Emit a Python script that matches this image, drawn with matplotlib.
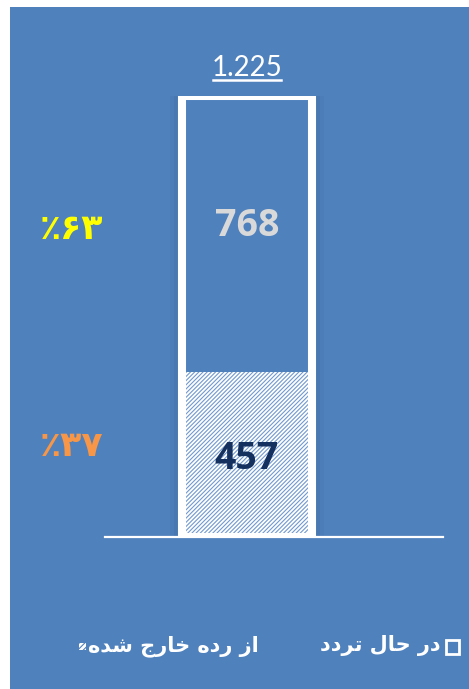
import matplotlib
matplotlib.use('Agg')
import matplotlib.pyplot as plt
from matplotlib.patches import Rectangle
from matplotlib.lines import Line2D

# data
categories = ['total']
retired = [457]      # از رده خارج شده
active = [768]       # در حال تردد
pct_active = '\u066a\u06f6\u06f3'    # ٪۶۳ (visual order)
pct_retired = '\u066a\u06f3\u06f7'   # ٪۳۷
# legend labels, shaped arabic presentation forms in visual order
lbl_active = '\uFEA9\uFEA9\uFEAE\uFE97 \uFEDD\uFE8E\uFEA3 \uFEAD\uFEA9'            # در حال تردد
lbl_retired = '\uFEE9\uFEAA\uFEB7 \uFE9D\uFEAD\uFE8E\uFEA7 \uFEE9\uFEA9\uFEAD \uFEAF\uFE8D'  # از رده خارج شده

BLUE = '#4F81BD'
W, H = 469, 689

fig = plt.figure(figsize=(W / 100, H / 100), dpi=100, facecolor='white')
fig.patches.append(Rectangle((10 / W, 0), 1, (H - 7) / H, transform=fig.transFigure,
                             facecolor=BLUE, edgecolor='none', zorder=-5))

ax = fig.add_axes([105 / W, 152 / H, 338 / W, 441 / H])
ax.set_zorder(2)
ax.set_facecolor('none')
total = retired[0] + active[0]
ax.set_xlim(0, 1)
ax.set_ylim(0, total)
x = [0.42]
bw = 0.385

plt.rcParams['hatch.linewidth'] = 0.8
# soft shadow
for k, a in enumerate([0.10, 0.07, 0.04]):
    m = 0.012 * (k + 1)
    ax.bar(x, [total + 8 * (k + 1)], width=bw + 2 * m, color='#1f3050', alpha=a,
           linewidth=0, zorder=1)
ax.bar(x, retired, width=bw, color='white', edgecolor='#7099cf', hatch='////////',
       linewidth=0, zorder=2)
ax.bar(x, active, bottom=retired, width=bw, color=BLUE, linewidth=0, zorder=2)
ax.bar(x, [total], width=bw, fill=False, edgecolor='white', linewidth=5.8, zorder=3)

for s in ['top', 'left', 'right']:
    ax.spines[s].set_visible(False)
ax.spines['bottom'].set_color('white')
ax.spines['bottom'].set_linewidth(1.6)
ax.spines['bottom'].set_zorder(4)
ax.set_xticks([])
ax.set_yticks([])

# value labels
ax.annotate(str(active[0]), (x[0], retired[0] + active[0] / 2), xytext=(0, 6),
            textcoords='offset points', ha='center', va='center',
            fontsize=27, fontweight='bold', color='#d9d9d9', family='Open Sans', zorder=5)
ax.annotate(str(retired[0]), (x[0], retired[0] / 2), xytext=(0, -3),
            textcoords='offset points', ha='center', va='center',
            fontsize=27, fontweight='bold', color='#14305e', family='Open Sans', zorder=5)
tot = ax.annotate(f'{total:,}'.replace(',', '.'), (x[0], total), xytext=(0, 11),
                  textcoords='offset points', ha='center', va='bottom',
                  fontsize=20, color='white', family='Lato', zorder=5)

# percentage labels on the left
ax.annotate(pct_active, (-0.098, retired[0] + active[0] / 2), xytext=(0, 4),
            textcoords='offset points', xycoords=('axes fraction', 'data'),
            ha='center', va='center', fontsize=25, fontweight='bold',
            color='#FFFF00', family='DejaVu Sans', annotation_clip=False)
ax.annotate(pct_retired, (-0.098, retired[0] / 2), xytext=(0, 6),
            textcoords='offset points', xycoords=('axes fraction', 'data'),
            ha='center', va='center', fontsize=25, fontweight='bold',
            color='#F79646', family='DejaVu Sans', annotation_clip=False)

# underline for the total
fig.canvas.draw()
bb = tot.get_window_extent()
fig.lines.append(Line2D([bb.x0 + 1, bb.x1 - 1], [bb.y0 + 1, bb.y0 + 1], color='white',
                        linewidth=1.8, transform=None, zorder=6))

# legend (manual, right-to-left)
ly = (H - 646) / H
fig.patches.append(Rectangle((446 / W, (H - 654) / H), 13 / W, 14 / H, transform=fig.transFigure,
                             facecolor='none', edgecolor='white', linewidth=2.0))
fig.text(441 / W, ly, lbl_active, ha='right', va='center', fontsize=15,
         fontweight='bold', color='white', family='DejaVu Sans')
fig.patches.append(Rectangle((79 / W, (H - 650) / H), 7 / W, 7 / H, transform=fig.transFigure,
                             facecolor='white', edgecolor=BLUE, hatch='//////', linewidth=0))
fig.text(88 / W, ly, lbl_retired, ha='left', va='center', fontsize=15,
         fontweight='bold', color='white', family='DejaVu Sans')

fig.savefig('out.png', dpi=100, facecolor=fig.get_facecolor())
